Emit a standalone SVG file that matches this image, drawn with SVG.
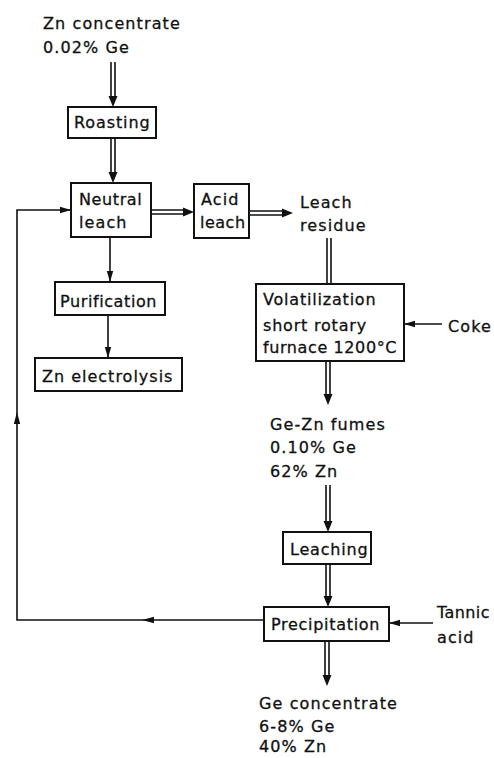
<svg xmlns="http://www.w3.org/2000/svg" width="494" height="758" viewBox="0 0 494 758">
<style>
text{font-family:"DejaVu Sans","Liberation Sans",sans-serif;font-size:16px;letter-spacing:1.1px;fill:#111;stroke:#111;stroke-width:0.3}
.box{fill:#fff;stroke:#111;stroke-width:2}
.ln{fill:none;stroke:#111;stroke-width:1.6}
.ah{fill:#111;stroke:none}
</style>
<defs>
<marker id="arr" markerUnits="userSpaceOnUse" markerWidth="12" markerHeight="8" refX="11" refY="4" orient="auto">
<path d="M0,0.8 L11,4 L0,7.2 z" fill="#111"/>
</marker>
</defs>
<rect width="494" height="758" fill="#fff"/>
<g id="connectors">
<g id="c1"><path class="ln" d="M111,62 V97 M115,62 V97"/><path class="ah" d="M108.5,96 L117.5,96 L113,107 z"/></g>
<g id="c2"><path class="ln" d="M111,138 V173 M115,138 V173"/><path class="ah" d="M108.5,172 L117.5,172 L113,183 z"/></g>
<g id="c3"><path class="ln" d="M151,210 H184 M151,214 H184"/><path class="ah" d="M183,207.5 L183,216.5 L194,212 z"/></g>
<g id="c4"><path class="ln" d="M249,211 H283 M249,215 H283"/><path class="ah" d="M282,208.5 L282,217.5 L293,213 z"/></g>
<g id="c5"><path class="ln" d="M327,238 V284 M331,238 V284"/></g>
<g id="c6"><path class="ln" d="M326,361 V395 M330,361 V395"/><path class="ah" d="M323.5,394 L332.5,394 L328,405 z"/></g>
<g id="c7"><path class="ln" d="M326,485 V522 M330,485 V522"/><path class="ah" d="M323.5,521 L332.5,521 L328,532 z"/></g>
<g id="c8"><path class="ln" d="M326,564 V597 M330,564 V597"/><path class="ah" d="M323.5,596 L332.5,596 L328,607 z"/></g>
<g id="c9"><path class="ln" d="M325,641 V676 M329,641 V676"/><path class="ah" d="M322.5,675 L331.5,675 L327,686 z"/></g>
<path class="ln" d="M110,237 V282" marker-end="url(#arr)"/>
<path class="ln" d="M108,315 V358" marker-end="url(#arr)"/>
<path class="ln" d="M442,324 H404" marker-end="url(#arr)"/>
<path class="ln" d="M433,623 H389" marker-end="url(#arr)"/>
<path class="ln" d="M264,620 H17 V210 H71" marker-end="url(#arr)"/>
<path class="ah" d="M142,620 L154,616.8 L154,623.2 z"/>
<path class="ah" d="M17,412 L13.8,424 L20.2,424 z"/>
</g>
<g id="feed"><text x="43" y="29">Zn concentrate</text><text x="43" y="53">0.02% Ge</text></g>
<g id="roasting"><rect class="box" x="68" y="107" width="88" height="31"/><text x="74" y="128" style="letter-spacing:0.9px">Roasting</text></g>
<g id="neutral"><rect class="box" x="71" y="183" width="80" height="54"/><text x="79" y="205" style="letter-spacing:0.6px">Neutral</text><text x="79" y="228">leach</text></g>
<g id="acid"><rect class="box" x="194" y="184" width="55" height="54"/><text x="201" y="205">Acid</text><text x="200" y="228" style="letter-spacing:0.5px">leach</text></g>
<g id="residue"><text x="300" y="208">Leach</text><text x="300" y="231">residue</text></g>
<g id="purification"><rect class="box" x="55" y="282" width="110" height="33"/><text x="60" y="307" style="letter-spacing:0.6px">Purification</text></g>
<g id="electrolysis"><rect class="box" x="35" y="358" width="147" height="33"/><text x="42" y="382" style="letter-spacing:1px">Zn electrolysis</text></g>
<g id="volatilization"><rect class="box" x="256" y="284" width="148" height="77"/><text x="263" y="305" style="letter-spacing:0.8px">Volatilization</text><text x="263" y="331" style="letter-spacing:0.8px">short rotary</text><text x="263" y="353" style="letter-spacing:0.6px">furnace 1200°C</text></g>
<g id="coke"><text x="448" y="332">Coke</text></g>
<g id="fumes"><text x="270" y="430">Ge-Zn fumes</text><text x="270" y="453">0.10% Ge</text><text x="270" y="477">62% Zn</text></g>
<g id="leaching"><rect class="box" x="283" y="532" width="88" height="32"/><text x="290" y="555" style="letter-spacing:0.8px">Leaching</text></g>
<g id="precipitation"><rect class="box" x="264" y="607" width="125" height="34"/><text x="271" y="630" style="letter-spacing:0.7px">Precipitation</text></g>
<g id="tannic"><text x="437" y="618" style="letter-spacing:0.4px">Tannic</text><text x="437" y="643">acid</text></g>
<g id="product"><text x="259" y="709">Ge concentrate</text><text x="259" y="732">6-8% Ge</text><text x="259" y="752">40% Zn</text></g>
</svg>
